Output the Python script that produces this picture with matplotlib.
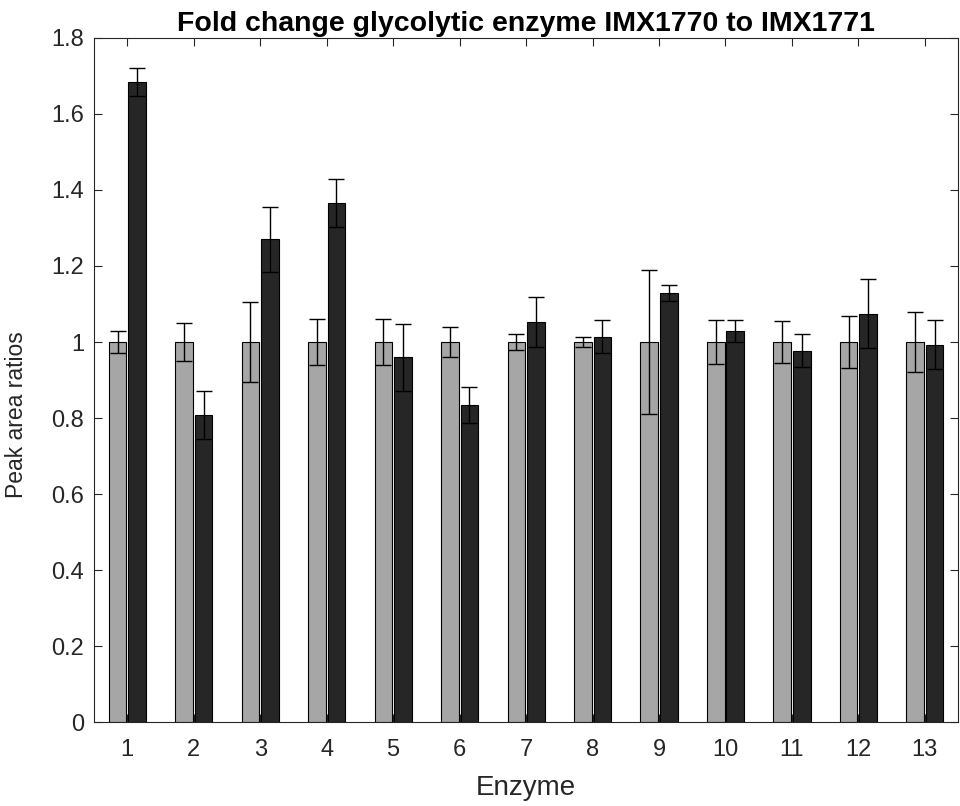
import numpy as np
import matplotlib.pyplot as plt
from matplotlib.ticker import FuncFormatter

plt.rcParams['font.family'] = ['Liberation Sans', 'DejaVu Sans']

enzymes = np.arange(1, 14)
ref_vals = [1, 1, 1, 1, 1, 1, 1, 1, 1, 1, 1, 1, 1]
ref_err = [0.03, 0.05, 0.104, 0.06, 0.06, 0.04, 0.02, 0.014, 0.19, 0.057, 0.054, 0.068, 0.078]
cmp_vals = [1.685, 0.808, 1.27, 1.366, 0.96, 0.835, 1.052, 1.014, 1.129, 1.028, 0.977, 1.075, 0.993]
cmp_err = [0.037, 0.063, 0.085, 0.064, 0.088, 0.047, 0.066, 0.044, 0.02, 0.029, 0.043, 0.09, 0.064]

fig = plt.figure(figsize=(9.6, 8.06), dpi=100)
ax = fig.add_axes([0.098, 0.104, 0.9, 0.849])

w = 0.265
off = 0.147
ax.bar(enzymes - off, ref_vals, w, color='#a6a6a6', edgecolor='black', linewidth=0.8, zorder=2)
ax.bar(enzymes + off, cmp_vals, w, color='#262626', edgecolor='black', linewidth=0.8, zorder=2)
ax.errorbar(enzymes - off, ref_vals, yerr=ref_err, fmt='none', ecolor='black',
            elinewidth=1, capsize=6, capthick=1, zorder=3)
ax.errorbar(enzymes + off, cmp_vals, yerr=cmp_err, fmt='none', ecolor='black',
            elinewidth=1, capsize=6, capthick=1, zorder=3)

ax.set_xlim(0.5, 13.5)
ax.set_ylim(0, 1.8)
ax.set_xticks(enzymes)
ax.set_yticks(np.arange(0, 1.81, 0.2))
ax.yaxis.set_major_formatter(FuncFormatter(lambda v, p: '%g' % round(v, 1)))
ax.tick_params(direction='in', top=True, right=True, length=6, labelsize=17,
               colors='#262626')
ax.tick_params(axis='x', pad=12)
ax.tick_params(axis='y', pad=7)
for s in ax.spines.values():
    s.set_color('#262626')
    s.set_linewidth(0.8)

ax.set_xlabel('Enzyme', fontsize=20, color='#262626', labelpad=10)
ax.set_ylabel('Peak area ratios', fontsize=16.5, color='#262626')
ax.yaxis.set_label_coords(-0.076, 0.45)
ax.set_title('Fold change glycolytic enzyme IMX1770 to IMX1771', fontsize=20.5,
             fontweight='bold', pad=5)

fig.savefig('out.png', dpi=100)
